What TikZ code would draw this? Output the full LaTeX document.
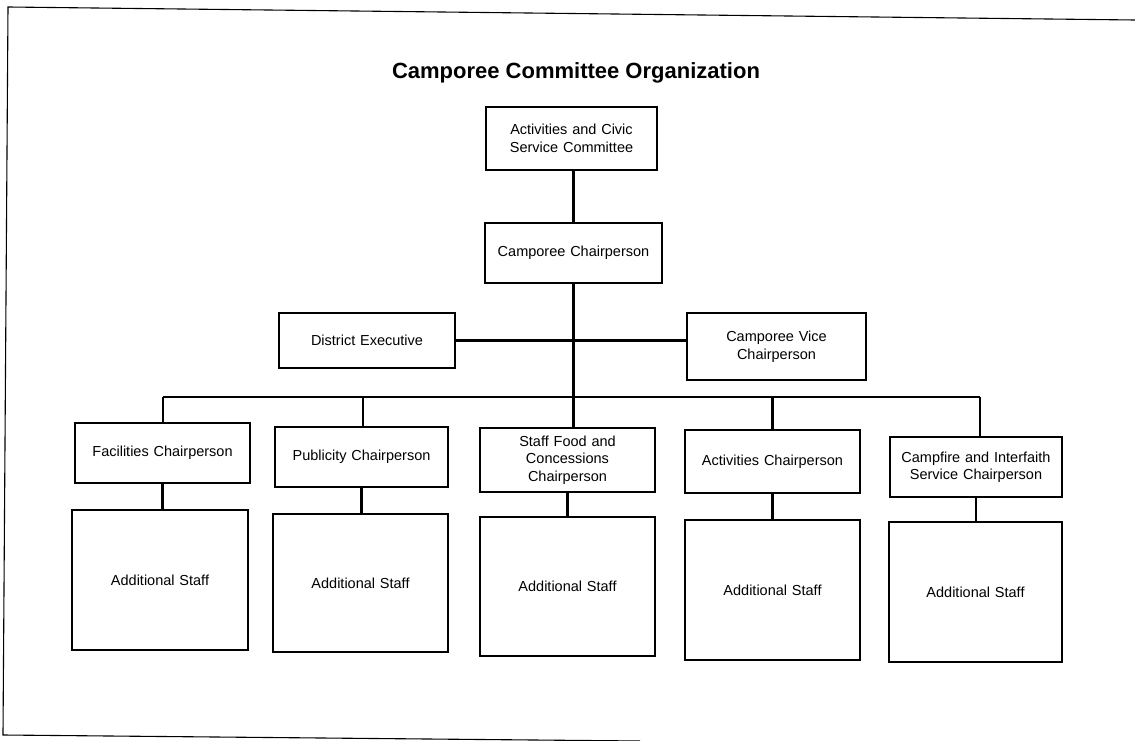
\documentclass[tikz,border=0pt]{standalone}
\usepackage{fontspec}
\setmainfont{Liberation Sans}
\begin{document}
\begin{tikzpicture}[x=1pt,y=-1pt,
  box/.style={draw,line width=2.4pt,align=center,inner sep=0pt,font=\fontsize{14.5}{17.5}\selectfont},
  link/.style={line width=2.6pt},
  frameline/.style={line width=1.1pt}]
\useasboundingbox (0,0) rectangle (1135,741);
% page frame (slightly skewed scan)
\coordinate (f1) at (8,7);
\coordinate (f2) at (1135,20);
\coordinate (f3) at (3,735);
\coordinate (f4) at (640,741);
\draw[frameline] (f2) -- (f1) -- (f3) -- (f4);

\node[font=\fontsize{22}{26}\selectfont\bfseries] (title) at (576,73) {Camporee Committee Organization};

% upper chain
\node[box,minimum width=171pt,minimum height=63pt,text width=165pt] (top) at (571.5,138.5) {Activities and Civic\\Service Committee};
\node[box,minimum width=177pt,minimum height=60pt,text width=170pt] (chair) at (573.5,253) {Camporee Chairperson};
\node[box,minimum width=176pt,minimum height=55pt,text width=170pt] (district) at (367,340.5) {District Executive};
\node[box,minimum width=179pt,minimum height=67pt,text width=172pt] (vice) at (776.5,346.5) {Camporee Vice\\Chairperson};

% chairpersons
\node[box,minimum width=175pt,minimum height=60pt,text width=169pt] (fac) at (162.5,453) {Facilities Chairperson};
\node[box,minimum width=173pt,minimum height=60pt,text width=167pt] (pub) at (361.5,457) {Publicity Chairperson};
\node[box,minimum width=175pt,minimum height=64pt,text width=169pt] (food) at (567.5,460) {Staff Food and\\Concessions\\Chairperson};
\node[box,minimum width=175pt,minimum height=63pt,text width=169pt] (act) at (772.5,461.5) {Activities Chairperson};
\node[box,minimum width=172pt,minimum height=60pt,text width=168pt] (camp) at (976,467) {Campfire and Interfaith\\Service Chairperson};

% staff boxes
\node[box,minimum width=176pt,minimum height=140pt,text width=166pt] (s1) at (160,580) {Additional Staff};
\node[box,minimum width=175pt,minimum height=138pt,text width=165pt] (s2) at (360.5,583) {Additional Staff};
\node[box,minimum width=175pt,minimum height=139pt,text width=165pt] (s3) at (567.5,586.5) {Additional Staff};
\node[box,minimum width=175pt,minimum height=140pt,text width=165pt] (s4) at (772.5,590) {Additional Staff};
\node[box,minimum width=173pt,minimum height=140pt,text width=163pt] (s5) at (975.5,592) {Additional Staff};

% bus coordinates
\coordinate (b1) at (163,397);
\coordinate (b2) at (363,397);
\coordinate (b5) at (980,397);

% connectors
\draw[link] (top.south) -- (chair.south |- top.south) ;
\draw[link] (chair.north) -- (chair.north |- top.south);
\draw[link] (chair.south) -- (chair.south |- food.north);
\draw[link] (district.east) -- (vice.west |- district.east);
\draw[link] (b1) -- (b5);
\draw[link] (b1) -- (b1 |- fac.north);
\draw[link] (b2) -- (b2 |- pub.north);
\draw[link] (act.north) -- (act.north |- b1);
\draw[link] (b5) -- (b5 |- camp.north);
\draw[link] (fac.south) -- (fac.south |- s1.north);
\draw[link] (pub.south) -- (pub.south |- s2.north);
\draw[link] (food.south) -- (food.south |- s3.north);
\draw[link] (act.south) -- (act.south |- s4.north);
\draw[link] (camp.south) -- (camp.south |- s5.north);
\end{tikzpicture}
\end{document}
